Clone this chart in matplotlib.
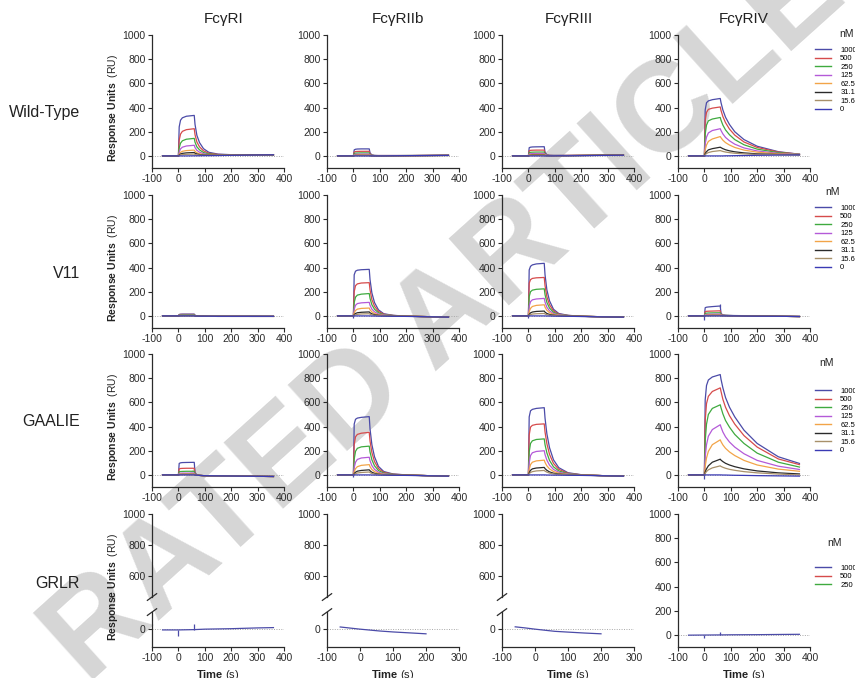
import numpy as np
import matplotlib
matplotlib.use("Agg")
import matplotlib.pyplot as plt
from matplotlib.lines import Line2D

plt.rcParams["font.family"] = ["Liberation Sans", "DejaVu Sans"]
plt.rcParams["axes.unicode_minus"] = False
plt.rcParams["mathtext.fontset"] = "custom"
plt.rcParams["mathtext.rm"] = "Liberation Sans"
plt.rcParams["mathtext.bf"] = "Liberation Sans:bold"

FIG_W, FIG_H = 855, 678

RECEPTORS = ["FcγRI", "FcγRIIb", "FcγRIII", "FcγRIV"]
VARIANTS = ["Wild-Type", "V11", "GAALIE", "GRLR"]
CONCS = ["1000", "500", "250", "125", "62.5", "31.1", "15.6", "0"]
CONC_COLORS = ["#4b4ba8", "#d64b4b", "#3faa3f", "#b45ad8",
               "#f2a448", "#2a2a2a", "#a8906a", "#3a3ab4"]

# sensorgram time grid (s); injection 0-60 s
TIME = [-60, 0, 3, 8, 15, 30, 60, 63, 70, 80, 95, 115, 150, 200, 280, 360]

# rows of each block follow CONCS (1000 ... 0 nM), response in RU
WT_FCGR1 = [
    [0, 0, 240, 295, 315, 328, 335, 260, 170, 110, 60, 30, 15, 10, 10, 10],
    [0, 0, 130, 180, 203, 217, 225, 175, 115, 75, 42, 22, 12, 9, 9, 10],
    [0, 0, 65, 105, 125, 138, 145, 113, 75, 50, 28, 16, 10, 8, 9, 9],
    [0, 0, 32, 58, 72, 82, 88, 69, 46, 31, 18, 11, 8, 7, 8, 8],
    [0, 0, 15, 29, 38, 44, 48, 38, 26, 18, 11, 8, 7, 7, 7, 8],
    [0, 0, 8, 16, 21, 25, 28, 22, 16, 11, 8, 7, 6, 6, 7, 7],
    [0, 0, 4, 8, 11, 13, 15, 12, 9, 7, 6, 6, 6, 6, 6, 7],
    [0, 0, 0, 0, 0, 0, 1, 1, 1, 1, 2, 2, 3, 5, 7, 9],
]
WT_FCGR2B = [
    [0, 0, 50, 55, 57, 58, 58, 25, 8, 4, 3, 3, 3, 3, 4, 6],
    [0, 0, 32, 36, 37, 38, 38, 16, 6, 3, 3, 3, 3, 3, 4, 5],
    [0, 0, 20, 23, 24, 25, 25, 10, 4, 3, 2, 2, 2, 3, 3, 5],
    [0, 0, 11, 13, 14, 14, 15, 6, 3, 2, 2, 2, 2, 2, 3, 5],
    [0, 0, 6, 7, 8, 8, 8, 4, 2, 2, 2, 2, 2, 2, 3, 4],
    [0, 0, 3, 4, 4, 4, 4, 2, 1, 1, 1, 1, 1, 2, 3, 4],
    [0, 0, 2, 2, 2, 2, 2, 1, 1, 1, 1, 1, 1, 2, 3, 4],
    [0, 0, 0, 0, 0, 0, 0, 0, 0, 0, 0, 0, 1, 2, 3, 4],
]
WT_FCGR3 = [
    [0, 0, 68, 72, 74, 75, 76, 30, 10, 5, 4, 4, 4, 5, 6, 8],
    [0, 0, 42, 46, 47, 48, 48, 19, 7, 4, 3, 3, 4, 5, 6, 8],
    [0, 0, 27, 30, 31, 32, 32, 13, 5, 3, 3, 3, 3, 4, 6, 7],
    [0, 0, 16, 18, 19, 20, 20, 8, 4, 3, 3, 3, 3, 4, 5, 7],
    [0, 0, 9, 11, 11, 12, 12, 5, 3, 2, 2, 2, 3, 4, 5, 7],
    [0, 0, 4, 5, 6, 6, 6, 3, 2, 2, 2, 2, 2, 3, 5, 6],
    [0, 0, 2, 3, 3, 3, 3, 2, 1, 1, 1, 1, 2, 3, 4, 6],
    [0, 0, 0, 0, 0, 0, 0, 0, 0, 0, 0, 1, 1, 2, 4, 6],
]
WT_FCGR4 = [
    [0, 0, 380, 440, 455, 465, 475, 440, 380, 320, 260, 200, 135, 80, 35, 14],
    [0, 0, 290, 360, 385, 395, 405, 375, 325, 275, 222, 172, 115, 70, 32, 14],
    [0, 0, 180, 255, 290, 305, 318, 295, 255, 215, 175, 135, 92, 56, 27, 13],
    [0, 0, 100, 155, 190, 210, 225, 210, 182, 153, 125, 97, 66, 41, 21, 12],
    [0, 0, 50, 90, 120, 140, 160, 150, 130, 110, 90, 70, 48, 31, 17, 11],
    [0, 0, 20, 35, 50, 60, 72, 68, 60, 51, 42, 34, 25, 17, 12, 10],
    [0, 0, 10, 20, 28, 36, 44, 42, 37, 32, 27, 22, 17, 12, 10, 9],
    [0, 0, 0, 0, 0, 0, 0, 0, 0, 1, 1, 2, 3, 5, 7, 8],
]

V11_FCGR1 = [
    [0, 0, 12, 14, 15, 15, 15, 5, 0, -2, -3, -3, -4, -4, -4, -4],
    [0, 0, 10, 12, 12, 12, 12, 4, 0, -2, -3, -3, -4, -4, -4, -4],
    [0, 0, 7, 8, 9, 9, 9, 3, 0, -2, -3, -3, -3, -4, -4, -4],
    [0, 0, 4, 5, 5, 5, 5, 2, 0, -2, -2, -3, -3, -3, -4, -4],
    [0, 0, 2, 3, 3, 3, 3, 1, -1, -2, -2, -3, -3, -3, -4, -4],
    [0, 0, 1, 1, 2, 2, 2, 0, -1, -2, -2, -3, -3, -3, -3, -4],
    [0, 0, 1, 1, 1, 1, 1, 0, -1, -2, -2, -2, -3, -3, -3, -3],
    [0, 0, 0, 0, 0, 0, 0, -1, -1, -2, -2, -2, -3, -3, -3, -3],
]
V11_FCGR2B = [
    [0, 0, 340, 370, 378, 382, 385, 300, 190, 110, 50, 18, 5, -2, -6, -10],
    [0, 0, 200, 250, 265, 272, 275, 215, 135, 80, 37, 14, 4, -2, -6, -10],
    [0, 0, 110, 155, 172, 180, 185, 145, 92, 55, 26, 10, 3, -2, -6, -10],
    [0, 0, 55, 88, 102, 108, 112, 88, 56, 34, 16, 7, 2, -2, -6, -10],
    [0, 0, 25, 45, 56, 62, 65, 51, 33, 20, 10, 4, 1, -2, -6, -10],
    [0, 0, 10, 20, 26, 30, 33, 26, 17, 10, 5, 2, 0, -3, -6, -10],
    [0, 0, 5, 10, 13, 16, 18, 14, 9, 5, 2, 1, -1, -3, -6, -10],
    [0, 0, 0, 0, 0, 0, 0, 0, -1, -1, -2, -2, -3, -4, -7, -10],
]
V11_FCGR3 = [
    [0, 0, 380, 410, 422, 430, 435, 340, 215, 125, 55, 20, 5, -3, -7, -10],
    [0, 0, 270, 300, 310, 315, 318, 250, 158, 92, 42, 15, 4, -3, -7, -10],
    [0, 0, 160, 200, 213, 220, 224, 176, 112, 65, 30, 11, 3, -3, -7, -10],
    [0, 0, 80, 118, 133, 140, 145, 114, 72, 42, 20, 8, 2, -3, -7, -10],
    [0, 0, 35, 62, 78, 87, 92, 72, 46, 27, 13, 5, 1, -3, -7, -10],
    [0, 0, 12, 25, 32, 37, 40, 31, 20, 12, 6, 2, 0, -3, -7, -10],
    [0, 0, 5, 11, 15, 18, 20, 16, 10, 6, 3, 1, -1, -4, -7, -10],
    [0, 0, 0, 0, 0, 0, 0, 0, -1, -1, -2, -2, -3, -5, -8, -10],
]
V11_FCGR4 = [
    [0, 0, 68, 72, 74, 77, 82, 20, 8, 5, 4, 3, 2, 0, -3, -5],
    [0, 0, 35, 38, 39, 40, 42, 12, 6, 4, 3, 2, 1, 0, -3, -5],
    [0, 0, 20, 23, 24, 25, 26, 8, 5, 4, 3, 2, 1, 0, -3, -5],
    [0, 0, 10, 12, 13, 14, 15, 6, 4, 3, 2, 2, 1, 0, -3, -5],
    [0, 0, 5, 7, 7, 8, 8, 4, 3, 2, 2, 1, 0, -1, -3, -5],
    [0, 0, 2, 3, 3, 4, 4, 2, 2, 2, 1, 1, 0, -1, -3, -5],
    [0, 0, 1, 2, 2, 2, 2, 1, 1, 1, 1, 0, 0, -1, -3, -5],
    [0, 0, 0, 0, 0, 0, 0, 0, 0, 0, 0, 0, -1, -2, -3, -5],
]

GAALIE_FCGR1 = [
    [0, 0, 95, 100, 102, 103, 104, 20, 0, -4, -6, -7, -8, -9, -11, -13],
    [0, 0, 50, 53, 54, 55, 55, 12, -1, -4, -6, -7, -8, -9, -11, -13],
    [0, 0, 26, 28, 29, 30, 30, 6, -2, -4, -6, -7, -8, -9, -11, -13],
    [0, 0, 12, 14, 15, 15, 15, 3, -2, -4, -6, -7, -8, -9, -11, -13],
    [0, 0, 6, 7, 7, 8, 8, 1, -2, -4, -6, -7, -8, -9, -11, -13],
    [0, 0, 3, 3, 4, 4, 4, 0, -2, -4, -6, -7, -8, -9, -11, -13],
    [0, 0, 1, 2, 2, 2, 2, 0, -2, -4, -6, -7, -8, -9, -11, -13],
    [0, 0, 0, 0, 0, 0, 0, -1, -2, -4, -6, -7, -8, -9, -11, -13],
]
GAALIE_FCGR2B = [
    [0, 0, 420, 460, 470, 476, 482, 380, 250, 150, 70, 28, 8, 0, -6, -10],
    [0, 0, 250, 315, 335, 345, 352, 280, 185, 110, 52, 21, 6, 0, -6, -10],
    [0, 0, 130, 195, 220, 232, 238, 190, 125, 75, 36, 15, 4, -1, -6, -10],
    [0, 0, 60, 105, 128, 140, 146, 117, 77, 46, 22, 9, 2, -1, -6, -10],
    [0, 0, 25, 52, 68, 79, 85, 68, 45, 27, 13, 5, 1, -2, -6, -10],
    [0, 0, 10, 22, 31, 37, 42, 34, 22, 13, 6, 2, 0, -2, -6, -10],
    [0, 0, 5, 11, 16, 20, 24, 19, 12, 7, 3, 1, -1, -3, -6, -10],
    [0, 0, 0, 0, 0, 0, 0, 0, -1, -1, -2, -2, -3, -4, -7, -10],
]
GAALIE_FCGR3 = [
    [0, 0, 480, 530, 542, 550, 556, 470, 340, 225, 125, 60, 18, 2, -6, -10],
    [0, 0, 330, 395, 410, 418, 422, 355, 258, 170, 95, 46, 14, 1, -6, -10],
    [0, 0, 190, 260, 282, 293, 298, 250, 182, 120, 67, 33, 10, 0, -6, -10],
    [0, 0, 100, 160, 183, 194, 200, 168, 122, 81, 45, 22, 7, 0, -6, -10],
    [0, 0, 45, 85, 105, 116, 122, 103, 75, 50, 28, 14, 4, -1, -6, -10],
    [0, 0, 18, 38, 50, 57, 62, 52, 38, 25, 14, 7, 2, -2, -6, -10],
    [0, 0, 9, 20, 27, 33, 37, 31, 23, 15, 8, 4, 1, -2, -6, -10],
    [0, 0, 0, 0, 0, 0, 0, 0, -1, -1, -2, -2, -3, -4, -7, -10],
]
GAALIE_FCGR4 = [
    [0, 0, 620, 740, 785, 810, 830, 790, 720, 640, 560, 480, 370, 260, 150, 95],
    [0, 0, 450, 590, 650, 690, 720, 690, 625, 560, 490, 420, 325, 230, 132, 85],
    [0, 0, 280, 420, 500, 550, 580, 555, 505, 450, 395, 335, 260, 180, 105, 65],
    [0, 0, 150, 250, 320, 375, 415, 395, 355, 315, 272, 230, 175, 120, 72, 45],
    [0, 0, 70, 140, 195, 250, 290, 275, 248, 220, 190, 160, 120, 82, 48, 30],
    [0, 0, 25, 50, 75, 105, 130, 122, 110, 96, 82, 68, 50, 33, 17, 8],
    [0, 0, 12, 28, 42, 58, 75, 70, 63, 55, 46, 38, 27, 17, 7, 0],
    [0, 0, 0, 0, 0, 0, 0, 0, -1, -1, -2, -3, -4, -6, -8, -10],
]

# GRLR: only the top (1000 nM) trace is distinguishable
GRLR_CONCS = ["1000", "500", "250"]
GRLR_TIME = [-60, 0, 60, 100, 200, 300, 360]
GRLR_TIME_SHORT = [-60, -30, 0, 30, 60, 100, 150, 200]
GRLR_FCGR1 = [-5, -5, -3, 0, 3, 8, 10]
GRLR_FCGR2B = [14, 7, 0, -6, -12, -18, -24, -30]
GRLR_FCGR3 = [15, 8, 0, -7, -14, -19, -25, -30]
GRLR_FCGR4 = [-2, -1, 0, 1, 2, 4, 5]

# injection artefacts: (time, low, high)
V11_FCGR2B_SPIKES = [(0, -20, 0)]
V11_FCGR3_SPIKES = [(0, -20, 0)]
V11_FCGR4_SPIKES = [(0, -35, 0), (60, 75, 100)]
GAALIE_FCGR2B_SPIKES = [(0, -15, 0)]
GAALIE_FCGR4_SPIKES = [(0, -30, 0)]
GRLR_FCGR1_SPIKES = [(0, -45, -5), (60, -3, 35)]
GRLR_FCGR4_SPIKES = [(0, -28, 0), (60, 0, 22)]

PANELS = [
    [WT_FCGR1, WT_FCGR2B, WT_FCGR3, WT_FCGR4],
    [V11_FCGR1, V11_FCGR2B, V11_FCGR3, V11_FCGR4],
    [GAALIE_FCGR1, GAALIE_FCGR2B, GAALIE_FCGR3, GAALIE_FCGR4],
]
GRLR_PANELS = [(GRLR_TIME, GRLR_FCGR1), (GRLR_TIME_SHORT, GRLR_FCGR2B),
               (GRLR_TIME_SHORT, GRLR_FCGR3), (GRLR_TIME, GRLR_FCGR4)]
SPIKES = {
    (1, 1): V11_FCGR2B_SPIKES, (1, 2): V11_FCGR3_SPIKES, (1, 3): V11_FCGR4_SPIKES,
    (2, 1): GAALIE_FCGR2B_SPIKES, (2, 3): GAALIE_FCGR4_SPIKES,
    (3, 0): GRLR_FCGR1_SPIKES, (3, 3): GRLR_FCGR4_SPIKES,
}

# layout in pixels
COL_LEFT = [152, 327, 502, 678]
ROW_TOP = [35, 195, 354, 514]
AX_W, AX_H = 132, 133
TITLE_X = [224, 398, 569, 744]
ROW_LABEL_Y = [112, 274, 422, 583]
LEGEND_Y = [51, 209, 392, 569]
NM_POS = [(847, 34), (833, 192), (827, 363), (835, 543)]
AXIS_COLOR = "#2b2b2b"

# broken y axis of the GRLR panels: gap between 110 and 465 RU
BREAK_LO, BREAK_HI, GAP = 110, 465, 97


def brk_fwd(v):
    v = np.asarray(v, dtype=float)
    mid = BREAK_LO + (v - BREAK_LO) * GAP / (BREAK_HI - BREAK_LO)
    return np.where(v <= BREAK_LO, v,
                    np.where(v >= BREAK_HI, v - (BREAK_HI - BREAK_LO) + GAP, mid))


def brk_inv(u):
    u = np.asarray(u, dtype=float)
    mid = BREAK_LO + (u - BREAK_LO) * (BREAK_HI - BREAK_LO) / GAP
    return np.where(u <= BREAK_LO, u,
                    np.where(u >= BREAK_LO + GAP, u + (BREAK_HI - BREAK_LO) - GAP, mid))


def px_rect(left, top, w, h):
    return [left / FIG_W, 1 - (top + h) / FIG_H, w / FIG_W, h / FIG_H]


def style_axes(ax, xmax):
    ax.set_facecolor("none")
    for side in ("top", "right"):
        ax.spines[side].set_visible(False)
    for side in ("left", "bottom"):
        ax.spines[side].set_color(AXIS_COLOR)
        ax.spines[side].set_linewidth(0.9)
    ax.set_xlim(-100, xmax)
    ax.set_xticks(np.arange(-100, xmax + 1, 100))
    ax.tick_params(direction="out", length=3, width=0.8, colors=AXIS_COLOR,
                   labelsize=7.5, pad=1.5)
    ax.axhline(0, color="#a8a8a8", lw=0.7, ls=(0, (1, 1.5)), zorder=0)


def draw_spikes(ax, row, col, color):
    for t, lo, hi in SPIKES.get((row, col), []):
        ax.vlines(t, lo, hi, color=color, lw=0.9, zorder=3)


def add_legend(fig, ax, row, labels, colors):
    handles = [Line2D([], [], color=c, lw=1.0) for c in colors]
    ax.legend(handles, labels, loc="upper left",
              bbox_to_anchor=(815 / FIG_W, 1 - (LEGEND_Y[row] - 4.4) / FIG_H),
              bbox_transform=fig.transFigure, frameon=False,
              prop={"size": 5.5, "family": ["Liberation Sans Narrow", "Liberation Sans"]},
              handlelength=2.1, handletextpad=1.2, labelspacing=0.15,
              borderpad=0, borderaxespad=0)
    x, y = NM_POS[row]
    fig.text(x / FIG_W, 1 - y / FIG_H, "nM", fontsize=7.5, ha="center",
             va="center", color="#222222")


fig = plt.figure(figsize=(FIG_W / 100, FIG_H / 100), dpi=100)

for row in range(4):
    for col in range(4):
        ax = fig.add_axes(px_rect(COL_LEFT[col], ROW_TOP[row], AX_W, AX_H))
        xmax = 300 if (row == 3 and col in (1, 2)) else 400
        style_axes(ax, xmax)

        if row < 3:
            for curve, color in zip(PANELS[row][col], CONC_COLORS):
                ax.plot(TIME, curve, color=color, lw=0.9)
            ax.set_ylim(-100, 1000)
            ax.set_yticks(np.arange(0, 1001, 200))
            draw_spikes(ax, row, col, CONC_COLORS[0])
        else:
            t, resp = GRLR_PANELS[col]
            ax.plot(t, resp, color=CONC_COLORS[0], lw=0.9)
            draw_spikes(ax, row, col, CONC_COLORS[0])
            if col < 3:
                ax.set_yscale("function", functions=(brk_fwd, brk_inv))
                ax.set_ylim(-115, 1000)
                ax.set_yticks([0, 600, 800, 1000])
                ax.spines["left"].set_visible(False)
                tr = ax.get_yaxis_transform()
                for lo, hi in ((-115, BREAK_LO), (BREAK_HI, 1000)):
                    ax.plot([0, 0], [lo, hi], color=AXIS_COLOR, lw=0.9,
                            transform=tr, clip_on=False)
                for v in (BREAK_LO, BREAK_HI):
                    yb = (float(brk_fwd(v)) + 115) / (1000 - (BREAK_HI - BREAK_LO) + GAP + 115)
                    ax.plot([-0.035, 0.035], [yb - 0.025, yb + 0.025],
                            color=AXIS_COLOR, lw=0.9, transform=ax.transAxes,
                            clip_on=False)
            else:
                ax.set_ylim(-100, 1000)
                ax.set_yticks(np.arange(0, 1001, 200))
            ax.set_xlabel(r"$\mathbf{Time}$ (s)", fontsize=8, color="#222222")
            ax.xaxis.set_label_coords(0.5, -0.155)

        if col == 0:
            ax.set_ylabel(r"$\mathbf{Response\ Units}$  (RU)", fontsize=7.5,
                          color="#222222")
            ax.yaxis.set_label_coords(-0.245, 0.45)

        if row == 0:
            fig.text(TITLE_X[col] / FIG_W, 1 - 19 / FIG_H, RECEPTORS[col],
                     fontsize=11, ha="center", va="center", color="#222222")

        if col == 3:
            if row < 3:
                add_legend(fig, ax, row, CONCS, CONC_COLORS)
            else:
                add_legend(fig, ax, row, GRLR_CONCS, CONC_COLORS[:3])

    fig.text(80 / FIG_W, 1 - ROW_LABEL_Y[row] / FIG_H, VARIANTS[row],
             fontsize=11.5, ha="right", va="center", color="#222222")

# retraction watermark, drawn beneath the panels
fig.text(446 / FIG_W, 1 - 317 / FIG_H, "RATED ARTICLE", rotation=42,
         rotation_mode="anchor", fontsize=93, fontweight="bold",
         color="#d6d6d6", ha="center", va="center", zorder=-1)

fig.savefig("out.png", dpi=100)
